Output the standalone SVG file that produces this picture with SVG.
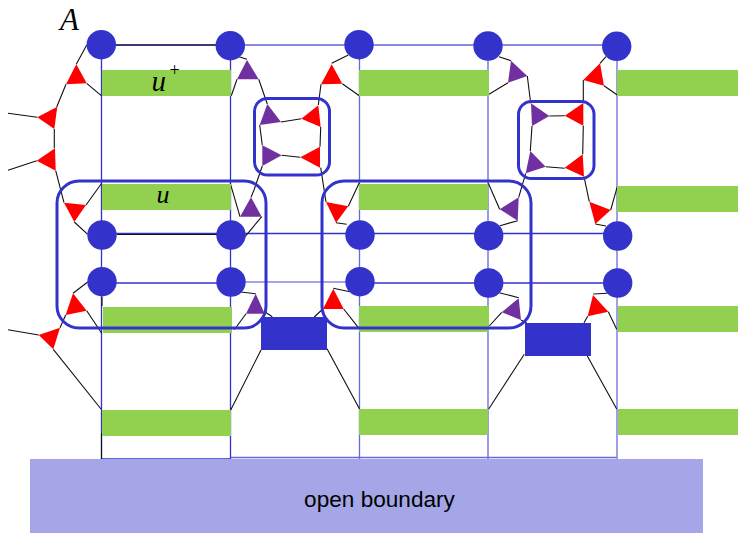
<svg xmlns="http://www.w3.org/2000/svg" width="738" height="533" viewBox="0 0 738 533">
<style>
.grid{stroke:#3333cc;stroke-width:1.3;fill:none}
.soft{stroke:#6666dd;stroke-width:1.3;fill:none}
.pale{stroke:#8888e4;stroke-width:1.6;fill:none}
.wire{stroke:#111;stroke-width:1.1;fill:none}
.green{fill:#92d14f}
.block{fill:#3333cc}
.site{fill:#3333cc}
.red{fill:#ff0000}
.purple{fill:#7030a0}
.box{fill:none;stroke:#3333cc;stroke-width:3}
.ital{font-family:"Liberation Serif",serif;font-style:italic;fill:#000}
.lab{font-family:"Liberation Sans",sans-serif;font-size:22.600px;fill:#000}
</style>
<g id="connectors">
<path class="grid" d="M101 45H230M102 233.500H231M102 283H231M231 233.500H617M360 283H617M101.500 45V459M230.500 45V459M101.500 459H231"/>
<path class="soft" d="M230 45H617M359.500 45V459M488 45V459M231 457.500H617"/>
<path class="pale" d="M231 282H360M617 46V459"/>
<path class="wire" d="M86.700 45L76.300 64.300M86.700 83.300L101.300 95.700M66 84.300L56.700 107M8 113.300L37.300 117.300M8 170.300L36.700 160.700M54.300 129V148.300M55.700 170.700L64 202.700M86 205L101.700 183.300M74.300 222L87.700 234.300M239 56.700L247 59.300M237 79.300L231.300 95.700M258.700 79.300L267.300 104M281 122L301.300 118.700M318.300 105L321 84.300M342.300 83.700L359.300 95.700M331.700 63.300L348.300 55M259.700 125L262.300 145.300M281.700 155.300L300.300 157.300M320.700 127L320 146.700M262.300 166L254 190L251 197.300M320.700 167.700L326 202M230.300 183.300L240 216.700M261.700 216.700L245 236.700M348.300 206.300L359.300 182.700M336 222.700L346.700 224.300"/>
<path class="wire" d="M499 56.700L511 60.700M508 82.700L489 94.300M527.300 76L530.700 103.300M549.300 116L564.700 115.700M583.300 103V80M606 56.700L600 63.300M604 85.700L617.300 95M532 126L530.300 151M583.300 125.700L582.700 154.300M545.700 166.700L564.700 168.300M525.700 173.300L518.700 197.300M584 176.700L589.300 201.700M610.700 210L617.300 186.700M488.300 183.300L499.700 209.300M517.700 220.700L500 225.700M595.300 224L606 226"/>
<path class="wire" d="M87.700 282L73 293.300M65.700 315L60 327.700M86.700 310.700L101.700 333.300M53.300 349.300L101 409M8 329.700L38.700 335M240.700 292L255.700 293.700M246 313.700L234.300 329.700M264.700 311.700L272.300 316.700M261 350L230.700 410M327 348.700L359.700 409.300M321.700 310L314.300 317M333.300 288.300L350 291.700M343.700 309L359 328.300M499.300 292.700L518.700 297.700M501.700 312.300L489.300 326M521 320L526.700 323M524.300 354.300L488.700 409M587.300 356L616.700 409M587.700 316.300L584 322.700M608.300 311.700L616.700 329.300M593.300 294L607.300 293.300M101.500 433V459M102 297V306M117 234.500H217M116 45H216"/>
</g>
<g id="tensors-u">
<rect id="u1" class="green" x="102" y="70" width="129" height="26"/>
<rect id="u2" class="green" x="359" y="70" width="130" height="26"/>
<rect id="u3" class="green" x="617" y="70" width="121" height="26"/>
<rect id="u4" class="green" x="102" y="184" width="129" height="26"/>
<rect id="u5" class="green" x="359" y="184" width="129" height="26"/>
<rect id="u6" class="green" x="617" y="186" width="121" height="26"/>
<rect id="u7" class="green" x="103" y="307" width="129" height="26"/>
<rect id="u8" class="green" x="359" y="306" width="130" height="26"/>
<rect id="u9" class="green" x="618" y="306" width="120" height="26"/>
<rect id="u10" class="green" x="102" y="410" width="129" height="26"/>
<rect id="u11" class="green" x="359" y="409" width="129" height="26"/>
<rect id="u12" class="green" x="618" y="409" width="120" height="26"/>
</g>
<g id="boundary"><rect x="30" y="459" width="673" height="74" fill="#a4a6e8"/><text class="lab" x="379.500" y="507" text-anchor="middle">open boundary</text></g>
<g id="blocks">
<rect id="block1" class="block" x="261" y="317" width="66" height="33"/>
<rect id="block2" class="block" x="525" y="323" width="66" height="33"/>
</g>
<g id="sites">
<circle id="s11" class="site" cx="101.300" cy="44.700" r="14.700"/>
<circle id="s12" class="site" cx="230.300" cy="45.700" r="14.700"/>
<circle id="s13" class="site" cx="359" cy="44.700" r="14.700"/>
<circle id="s14" class="site" cx="488" cy="46" r="14.700"/>
<circle id="s15" class="site" cx="616.700" cy="46.300" r="14.700"/>
<circle id="s21" class="site" cx="102" cy="235" r="14.700"/>
<circle id="s22" class="site" cx="231" cy="235" r="14.700"/>
<circle id="s23" class="site" cx="360" cy="235" r="14.700"/>
<circle id="s24" class="site" cx="488.700" cy="235.700" r="14.700"/>
<circle id="s25" class="site" cx="617.700" cy="236" r="14.700"/>
<circle id="s31" class="site" cx="102" cy="281.700" r="14.700"/>
<circle id="s32" class="site" cx="231" cy="282" r="14.700"/>
<circle id="s33" class="site" cx="360" cy="281.700" r="14.700"/>
<circle id="s34" class="site" cx="488.700" cy="283" r="14.700"/>
<circle id="s35" class="site" cx="617.700" cy="283" r="14.700"/>
</g>
<g id="triangles">
<polygon id="t1" class="red" points="76.300,64.300 66,84.300 86.700,83.300"/>
<polygon id="t2" class="red" points="37.300,117.300 57.300,106.700 54.300,129"/>
<polygon id="t3" class="red" points="36.700,160.700 55,148.300 55.700,170.700"/>
<polygon id="t4" class="red" points="64,202.700 86,205 74.300,222"/>
<polygon id="t5" class="purple" points="247,60 237,79.300 258.700,79.300"/>
<polygon id="t6" class="purple" points="267.300,104 259.700,125 281,122"/>
<polygon id="t7" class="red" points="301.300,118.700 318.300,105.300 320.700,127"/>
<polygon id="t8" class="purple" points="262.300,145.300 281.700,155.300 262.300,166"/>
<polygon id="t9" class="red" points="300.300,157.300 320,146.700 320,167.700"/>
<polygon id="t10" class="purple" points="251,197.300 240,216.700 261.700,216.700"/>
<polygon id="t11" class="red" points="331.700,64.300 321,84.300 342.300,83.700"/>
<polygon id="t12" class="red" points="326,202 348.300,206.300 336,222.700"/>
<polygon id="t13" class="purple" points="511,60.700 508,82.700 527.300,76"/>
<polygon id="t14" class="purple" points="531,103.300 549.300,116 532,126"/>
<polygon id="t15" class="red" points="564.700,115.700 583.300,103 583.300,125.700"/>
<polygon id="t16" class="purple" points="530.300,151 545.700,166.700 525.700,173.300"/>
<polygon id="t17" class="red" points="564.700,167.700 582.700,154.300 584,176.700"/>
<polygon id="t18" class="red" points="600,63.300 583.300,80 604,85.700"/>
<polygon id="t19" class="purple" points="518.700,197.300 499.700,209.300 517.700,220.700"/>
<polygon id="t20" class="red" points="589.300,201.700 610.700,210 595.300,224"/>
<polygon id="t21" class="red" points="73,293.300 65.700,315 86.700,310.700"/>
<polygon id="t22" class="red" points="38.700,335 60,327.700 53.300,349.300"/>
<polygon id="t23" class="purple" points="255.700,293.700 246,313.700 264.700,313.700"/>
<polygon id="t24" class="red" points="333.300,288.700 323,309 343.700,309"/>
<polygon id="t25" class="purple" points="518.700,298.300 501.700,312.300 521,320"/>
<polygon id="t26" class="red" points="593,295 587.700,316.300 608.300,311.700"/>
</g>
<g id="frames">
<rect id="frame1" class="box" x="57" y="181" width="209" height="147" rx="22"/>
<rect id="frame2" class="box" x="322" y="181" width="209" height="147" rx="22"/>
<rect id="frame3" class="box" x="254.500" y="98.500" width="75" height="76.500" rx="13"/>
<rect id="frame4" class="box" x="518.500" y="101.500" width="75.500" height="77" rx="13"/>
</g>
<g id="labels">
<text class="ital" x="60" y="30" font-size="31">A</text>
<text class="ital" x="151.500" y="91" font-size="29">u</text>
<text x="169.500" y="75.500" font-size="18" style="font-family:'Liberation Serif',serif">+</text>
<text class="ital" x="156.500" y="203" font-size="26">u</text>
</g>
</svg>
